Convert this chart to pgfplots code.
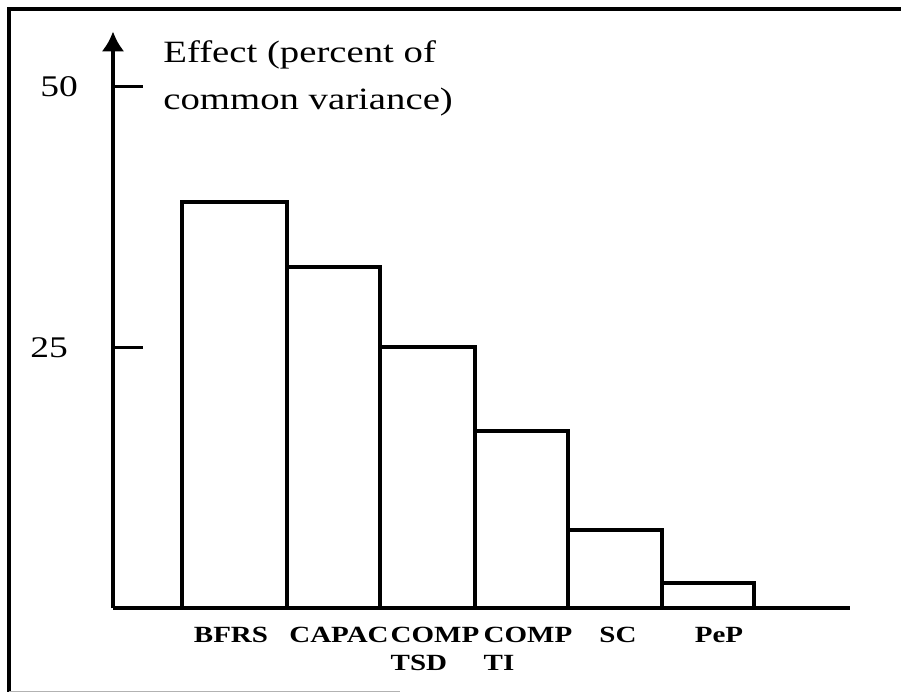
\documentclass[border=0pt]{standalone}
\usepackage{pgfplots}
\pgfplotsset{compat=1.18}
\usepackage{fontspec}
\setmainfont{Liberation Serif}
\newfontfamily\wide{Liberation Serif}[FakeStretch=1.25]
\usetikzlibrary{arrows.meta}
\begin{document}
\begin{tikzpicture}[x=0.5pt,y=0.5pt]
\useasboundingbox (0,0) rectangle (901,692);
% outer frame
\draw[line width=2pt] (901,683) -- (9,683) -- (9,0);
\draw[line width=0.5pt, gray!60] (9,1) -- (400,1);
\begin{axis}[
  at={(113,80)}, anchor=south west,
  scale only axis, width=368.5pt, height=288.5pt,
  xmin=113, xmax=850, ymin=0, ymax=55.27,
  axis x line*=bottom, axis y line*=left,
  x axis line style={-, line width=2pt},
  y axis line style={-{Latex[length=10pt,width=11.5pt]}, line width=2pt},
  clip=false,
  ytick={25,50}, yticklabels={{25\kern5pt\null},50},
  tick align=inside,
  major tick length=15pt,
  y tick style={line width=1.5pt, black},
  yticklabel style={font=\wide\fontsize{15}{18}\selectfont, xshift=-14pt},
  /pgf/number format/assume math mode=true,
  xtick={231,339,435,528,618,719},
  xticklabels={BFRS, CAPAC, {COMP\\TSD}, {COMP\\TI}, SC, PeP},
  x tick style={draw=none},
  xticklabel style={font=\wide\bfseries\fontsize{11.6}{14}\selectfont, align=left, yshift=-6pt},
]
\addplot[ybar interval, draw=black, fill=white, line width=2pt] coordinates {
  (182,38.9) (287,32.7) (380,25.0) (475,17.0) (568,7.5) (662,2.4) (754,2.4)
};
\end{axis}
\node[anchor=base west, inner sep=0pt, font=\wide\fontsize{15.5}{18}\selectfont] at (163,629) {Effect (percent of};
\node[anchor=base west, inner sep=0pt, font=\wide\fontsize{15.5}{18}\selectfont] at (163,582) {common variance)};
\end{tikzpicture}
\end{document}
